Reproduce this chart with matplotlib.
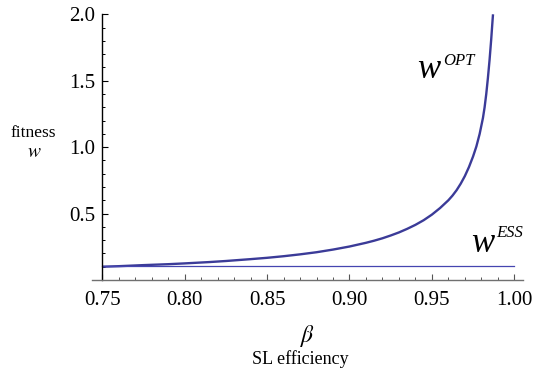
import matplotlib
matplotlib.use("Agg")
import matplotlib.pyplot as plt
from matplotlib.ticker import MultipleLocator, FixedLocator

# SL efficiency (beta) and optimal fitness
beta = [0.750, 0.760, 0.775, 0.790, 0.800, 0.815, 0.825, 0.840, 0.850, 0.860,
        0.870, 0.880, 0.890, 0.900, 0.910, 0.915, 0.920, 0.925, 0.930, 0.935,
        0.940, 0.945, 0.950, 0.955, 0.960, 0.9625, 0.965, 0.9675, 0.970,
        0.9725, 0.975, 0.977, 0.979, 0.981, 0.982, 0.983, 0.984, 0.985,
        0.986, 0.9868, 0.9871]
w_opt = [0.100, 0.104, 0.112, 0.119, 0.125, 0.135, 0.143, 0.157, 0.167, 0.179,
         0.193, 0.209, 0.229, 0.252, 0.280, 0.296, 0.314, 0.335, 0.358, 0.385,
         0.415, 0.450, 0.492, 0.542, 0.600, 0.635, 0.676, 0.725, 0.782,
         0.850, 0.930, 1.005, 1.100, 1.220, 1.300, 1.400, 1.520, 1.655,
         1.810, 1.950, 2.000]

beta_ess = [0.75, 1.00]
w_ess = [0.105, 0.105]

x_ticks = [0.75, 0.80, 0.85, 0.90, 0.95, 1.00]
y_ticks = [0.5, 1.0, 1.5, 2.0]

plt.rcParams['mathtext.fontset'] = 'stix'
serif = 'Liberation Serif'
W, H = 535, 375

fig = plt.figure(figsize=(5.35, 3.75), dpi=100)
ax = fig.add_axes([92.4 / W, 95 / H, 430.6 / W, 265.7 / H])

ax.plot(beta, w_opt, color='#3b3b98', lw=1.7, clip_on=False, solid_capstyle='butt')
ax.plot(beta_ess, w_ess, color='#4545b0', lw=0.9, clip_on=False)

ax.set_xlim(0.744, 1.0053)
ax.set_ylim(0, 2.0)

# Mathematica style axes crossing at (0.75, 0)
for s in ['top', 'right']:
    ax.spines[s].set_visible(False)
ax.spines['left'].set_position(('data', 0.75))
ax.spines['left'].set_color('black')
ax.spines['left'].set_linewidth(1.0)
ax.spines['bottom'].set_color('#707070')
ax.spines['bottom'].set_linewidth(1.0)

ax.xaxis.set_major_locator(FixedLocator(x_ticks))
ax.xaxis.set_minor_locator(MultipleLocator(0.01))
ax.yaxis.set_major_locator(FixedLocator(y_ticks))
ax.yaxis.set_minor_locator(FixedLocator([i / 10 for i in range(1, 20)]))
ax.set_xticklabels([f'{t:.2f}' for t in x_ticks])
ax.set_yticklabels([f'{t:.1f}' for t in y_ticks])

ax.tick_params(axis='x', which='major', direction='in', length=4, width=0.8,
               color='#555555', pad=8)
ax.tick_params(axis='x', which='minor', direction='in', length=2.5, width=0.7,
               color='#555555')
ax.tick_params(axis='y', which='major', direction='in', length=4, width=0.8,
               color='black', pad=5)
ax.tick_params(axis='y', which='minor', direction='in', length=2.5, width=0.7,
               color='black')
for lab in ax.get_xticklabels() + ax.get_yticklabels():
    lab.set_fontfamily(serif)
    lab.set_fontsize(15)

# axis labels
fig.text(33 / W, 1 - 137 / H, 'fitness', family=serif, fontsize=12.5,
         ha='center', va='baseline')
fig.text(34 / W, 1 - 157 / H, r'$w$', fontsize=14, ha='center', va='baseline')
fig.text(307.7 / W, 1 - 336 / H, r'$\beta$', fontsize=17, ha='center', va='center')
fig.text(300.5 / W, 1 - 364 / H, 'SL efficiency', family=serif, fontsize=13,
         ha='center', va='baseline')

# curve labels: big italic w with a small italic superscript
fig.text(417 / W, 1 - 78 / H, 'w', family=serif, style='italic', fontsize=25,
         ha='left', va='baseline')
fig.text(443 / W, 1 - 65 / H, 'OPT', family=serif, style='italic', fontsize=12,
         ha='left', va='baseline')
fig.text(471 / W, 1 - 252 / H, 'w', family=serif, style='italic', fontsize=25,
         ha='left', va='baseline')
fig.text(496 / W, 1 - 237 / H, 'ESS', family=serif, style='italic', fontsize=12,
         ha='left', va='baseline')

fig.savefig('out.png', dpi=100)
